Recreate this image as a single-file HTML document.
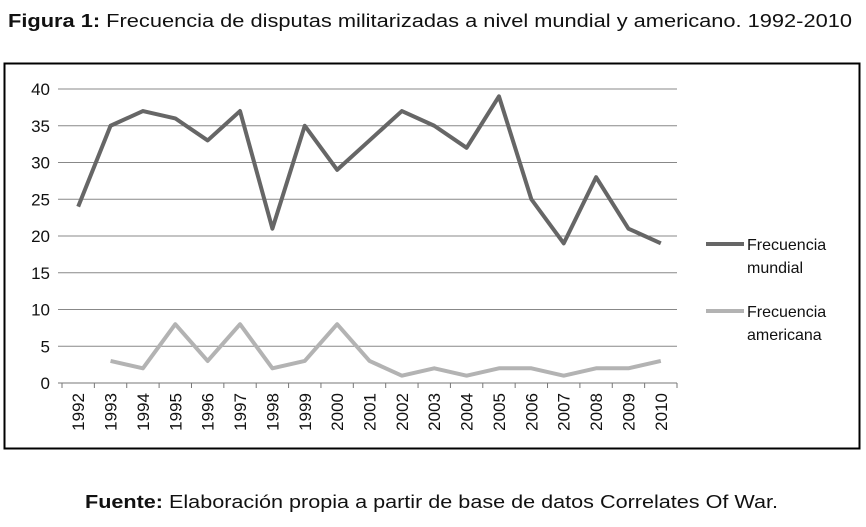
<!DOCTYPE html>
<html><head><meta charset="utf-8"><style>
body{margin:0;background:#fff;font-family:"Liberation Sans",sans-serif;}
</style></head><body>
<svg width="866" height="522" xmlns="http://www.w3.org/2000/svg">
<text x="8" y="27" font-size="18" textLength="844" lengthAdjust="spacingAndGlyphs" font-family="Liberation Sans, sans-serif" fill="#111"><tspan font-weight="bold">Figura 1:</tspan> Frecuencia de disputas militarizadas a nivel mundial y americano. 1992-2010</text>
<rect x="4.5" y="63.5" width="855" height="385" fill="#fff" stroke="#000" stroke-width="2"/>
<g id="grid"></g><g id="axes"></g><g id="lines"></g>
<g>
<line x1="706" y1="244" x2="744" y2="244" stroke="#666" stroke-width="4"/>
<text x="747" y="250" font-size="16" fill="#111">Frecuencia</text>
<text x="747" y="273" font-size="16" fill="#111">mundial</text>
<line x1="706" y1="311" x2="744" y2="311" stroke="#b3b3b3" stroke-width="4"/>
<text x="747" y="317" font-size="16" fill="#111">Frecuencia</text>
<text x="747" y="333" font-size="16" fill="#111" dy="7">americana</text>
</g>
<text x="85" y="508" font-size="18" textLength="693" lengthAdjust="spacingAndGlyphs" fill="#111"><tspan font-weight="bold">Fuente:</tspan> Elaboración propia a partir de base de datos Correlates Of War.</text>
</svg>
<script>
const years=["1992","1993","1994","1995","1996","1997","1998","1999","2000","2001","2002","2003","2004","2005","2006","2007","2008","2009","2010"];
const mundial=[24,35,37,36,33,37,21,35,29,33,37,35,32,39,25,19,28,21,19];
const americana=[null,3,2,8,3,8,2,3,8,3,1,2,1,2,2,1,2,2,3];
const yTicks=[0,5,10,15,20,25,30,35,40];
const NS="http://www.w3.org/2000/svg";
const x0=62,x1=677,y0=383,y1=89;
const bw=(x1-x0)/years.length;
const xs=i=>x0+bw*(i+0.5);
const ys=v=>y0-(v/40)*(y0-y1);
function mk(t,a,p){const e=document.createElementNS(NS,t);for(const k in a)e.setAttribute(k,a[k]);p.appendChild(e);return e;}
const g=document.getElementById('grid'),ax=document.getElementById('axes'),ln=document.getElementById('lines');
yTicks.forEach(v=>{
 const l=mk('line',{x1:x0-4,x2:x1,y1:ys(v),y2:ys(v),stroke:v===0?'#777':'#888','stroke-width':1},g);
 
 
 const t=mk('text',{x:50,y:ys(v)+6,'text-anchor':'end','font-size':17,fill:'#111'},ax);
 t.textContent=v;
 
 
});
years.forEach((y,i)=>{
 const tk=mk('line',{x1:x0+bw*(i+1),x2:x0+bw*(i+1),y1:y0,y2:y0+5,stroke:'#777'},ax);
 
 
 const t=mk('text',{transform:`translate(${xs(i)+6},${y0+10}) rotate(-90)`,'text-anchor':'end','font-size':17,fill:'#111'},ax);
 t.textContent=y;
 
 
});
const t0=mk('line',{x1:x0,x2:x0,y1:y0,y2:y0+5,stroke:'#777'},ax);


function path(arr,col,name){
 let d='';arr.forEach((v,i)=>{if(v==null)return;d+=(d?'L':'M')+xs(i)+','+ys(v);});
 const p=mk('path',{d:d,fill:'none',stroke:col,'stroke-width':4,'stroke-linejoin':'round'},ln);
 
 
}
path(mundial,'#666','line-mundial');
path(americana,'#b3b3b3','line-americana');
</script>
</body></html>
